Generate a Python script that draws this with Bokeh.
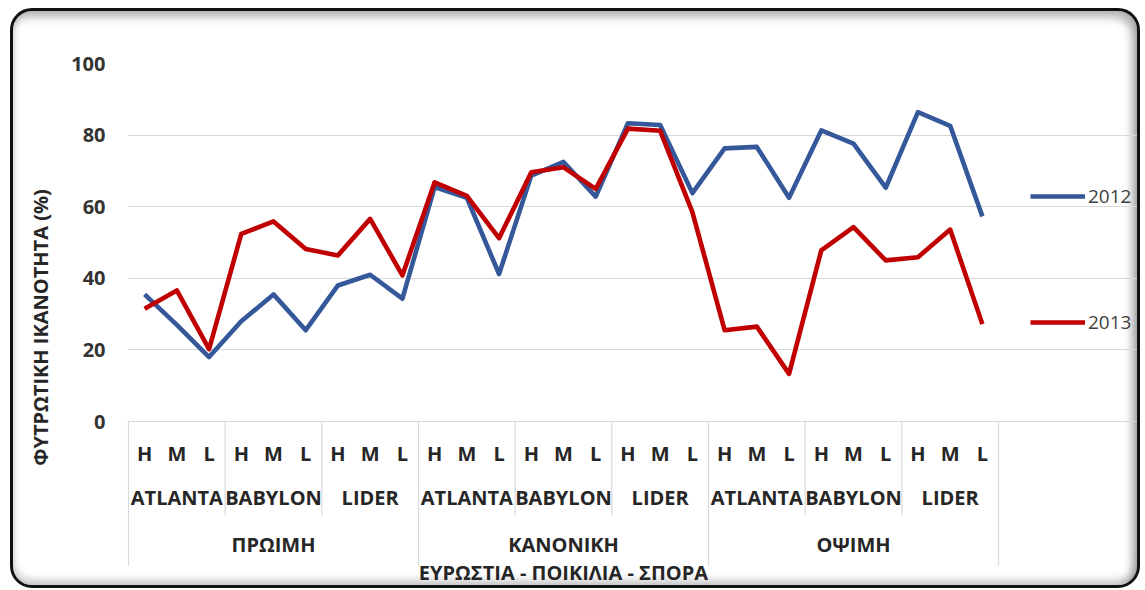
from bokeh.plotting import figure
from bokeh.models import Range1d, FixedTicker, Legend, LegendItem, ColumnDataSource
from bokeh.embed import file_html
from bokeh.resources import INLINE
from bokeh.core.properties import value

# ---------------- data ----------------
sowing = ["ΠΡΩΙΜΗ", "ΚΑΝΟΝΙΚΗ", "ΟΨΙΜΗ"]
varieties = ["ATLANTA", "BABYLON", "LIDER"]
vigour = ["H", "M", "L"]
series_names = ["2012", "2013"]
y2012 = [35.5, 27.0, 18.0, 28.0, 35.5, 25.5, 38.0, 41.0, 34.3,
         65.5, 62.5, 41.2, 68.7, 72.5, 62.8, 83.3, 82.8, 63.8,
         76.3, 76.7, 62.5, 81.3, 77.6, 65.3, 86.4, 82.6, 57.3]
y2013 = [31.5, 36.6, 20.2, 52.4, 55.9, 48.2, 46.4, 56.6, 40.8,
         66.8, 63.0, 51.2, 69.6, 71.0, 65.0, 81.8, 81.2, 58.5,
         25.5, 26.5, 13.3, 47.8, 54.3, 45.0, 45.9, 53.6, 27.2]
yticks = [0, 20, 40, 60, 80, 100]
y_title = "ΦΥΤΡΩΤΙΚΗ ΙΚΑΝΟΤΗΤΑ (%)"
x_title = "ΕΥΡΩΣΤΙΑ - ΠΟΙΚΙΛΙΑ - ΣΠΟΡΑ"

# ---------------- styles ----------------
FONT = "Open Sans"
BLUE = "#34589A"
RED = "#C00000"
GRID = "#D9D9D9"
TXT = "#262626"
PX = 100 / 358.0          # value units per pixel (y)
UNIT = 870 / 27.0         # pixels per category (x)

factors = [(s, v, g) for s in sowing for v in varieties for g in vigour]
xpos = [i + 0.5 for i in range(len(factors))]
n_in = len(vigour)
n_mid = len(varieties)
n_groups = len(sowing) * n_mid
n_all = len(factors)
bounds = [n_in * j for j in range(n_groups + 1)]
top_bounds = [b for b in bounds if b % (n_in * n_mid) == 0]
mid_bounds = [b for b in bounds if b % (n_in * n_mid) != 0]

W, H = 1130, 580
LEFT, TOP = 114, 52
x_range = Range1d(-1 / UNIT, n_all + (W - LEFT - 1 - n_all * UNIT) / UNIT)
y_range = Range1d(-(H - TOP - 358) * PX, 100)

p = figure(x_range=x_range, y_range=y_range, width=W, height=H,
           output_backend="svg", toolbar_location=None, x_axis_location=None,
           min_border_left=LEFT, min_border_right=0, min_border_top=TOP,
           min_border_bottom=0)
p.border_fill_color = None
p.background_fill_color = None
p.outline_line_color = None
p.xgrid.visible = False
p.ygrid.ticker = FixedTicker(ticks=yticks)
p.ygrid.bounds = (0, n_all)
p.ygrid.grid_line_color = GRID
p.ygrid.grid_line_width = 1.2

ax = p.yaxis[0]
ax.ticker = FixedTicker(ticks=yticks)
ax.bounds = (0, 100)
ax.axis_line_color = None
ax.major_tick_line_color = None
ax.minor_tick_line_color = None
ax.major_tick_out = 0
ax.major_label_standoff = 22
ax.major_label_text_font = FONT
ax.major_label_text_font_size = "20px"
ax.major_label_text_font_style = "bold"
ax.major_label_text_color = "#333333"
ax.axis_label = y_title
ax.axis_label_text_font = FONT
ax.axis_label_text_font_size = "20px"
ax.axis_label_text_font_style = "bold"
ax.axis_label_text_color = TXT
ax.axis_label_standoff = 14

src = ColumnDataSource(dict(x=xpos, a=y2012, b=y2013))
r1 = p.line("x", "a", source=src, line_width=4.6, line_color=BLUE, line_join="round")
r2 = p.line("x", "b", source=src, line_width=4.6, line_color=RED, line_join="round")

# category table
p.segment(x0=mid_bounds, y0=[0] * len(mid_bounds), x1=mid_bounds,
          y1=[-94 * PX] * len(mid_bounds), line_color=GRID, line_width=1.2)
p.segment(x0=top_bounds, y0=[0] * len(top_bounds), x1=top_bounds,
          y1=[-144 * PX] * len(top_bounds), line_color=GRID, line_width=1.2)

common = dict(text_font=value(FONT), text_font_size="20px", text_font_style="bold",
              text_color=TXT, text_align="center", text_baseline="middle")
p.text(x=xpos, y=[-32 * PX] * n_all, text=[f[2] for f in factors], **common)
var_x = [n_in * j + n_in / 2 for j in range(n_groups)]
var_t = [v for s in sowing for v in varieties]
p.text(x=var_x, y=[-76 * PX] * len(var_x), text=var_t, **common)
sw_x = [n_in * n_mid * k + n_in * n_mid / 2 for k in range(len(sowing))]
p.text(x=sw_x, y=[-123 * PX] * len(sw_x), text=sowing, **common)
p.text(x=[n_all / 2], y=[-151 * PX], text=[x_title], **common)

legend = Legend(items=[LegendItem(label=series_names[0], renderers=[r1]),
                       LegendItem(label=series_names[1], renderers=[r2])],
                location=(903, 256), spacing=100, glyph_width=55, glyph_height=24,
                label_height=24, label_standoff=3, padding=0, margin=0,
                border_line_color=None, background_fill_alpha=0,
                label_text_font=FONT, label_text_font_size="19px",
                label_text_color="#404040")
p.add_layout(legend)

p.styles = {
    "margin": "8px 0 0 10px",
    "border": "3px solid #111111",
    "border-radius": "22px",
    "box-shadow": "inset -5px 6px 10px rgba(0,0,0,0.30), inset 0 -5px 8px rgba(0,0,0,0.22)",
    "background-color": "white",
    "overflow": "hidden",
}

open("out.html", "w").write(file_html(p, INLINE))
